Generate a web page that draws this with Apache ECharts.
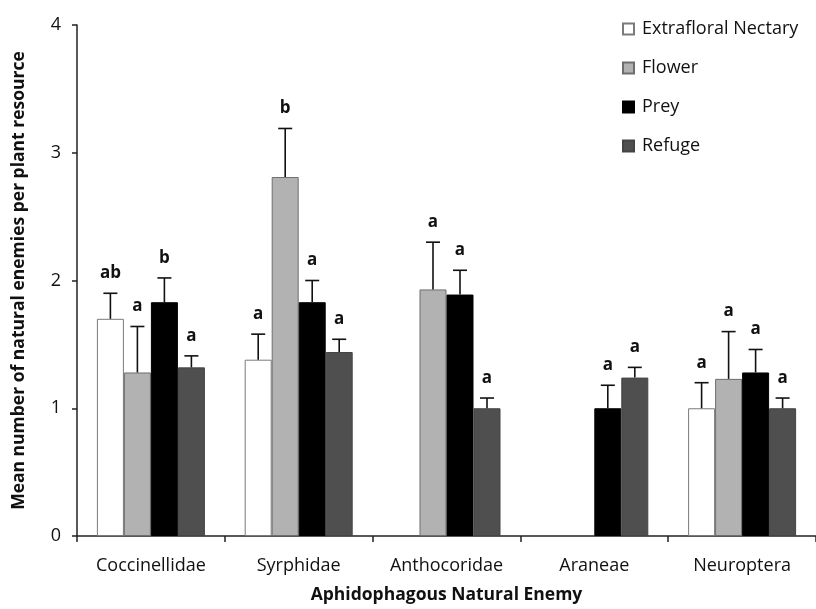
<!DOCTYPE html>
<html><head><meta charset="utf-8">
<script src="https://cdn.jsdelivr.net/npm/echarts@6/dist/echarts.min.js"></script>
<style>html,body{margin:0;padding:0;background:#fff}#c{width:816px;height:609px}</style>
</head><body><div id="c"></div>
<script>
const categories = ['Coccinellidae','Syrphidae','Anthocoridae','Araneae','Neuroptera'];
const seriesNames = ['Extrafloral Nectary','Flower','Prey','Refuge'];
const nectary = [1.70, 1.38, null, null, 1.00];
const flower  = [1.28, 2.81, 1.93, null, 1.23];
const prey    = [1.83, 1.83, 1.89, 1.00, 1.28];
const refuge  = [1.32, 1.44, 1.00, 1.24, 1.00];
const nectaryErr = [1.90, 1.58, null, null, 1.20];
const flowerErr  = [1.64, 3.19, 2.30, null, 1.60];
const preyErr    = [2.02, 2.00, 2.08, 1.18, 1.46];
const refugeErr  = [1.41, 1.54, 1.08, 1.32, 1.08];
const nectaryLetters = ['ab','a','','','a'];
const flowerLetters  = ['a','b','a','','a'];
const preyLetters    = ['b','a','a','a','a'];
const refugeLetters  = ['a','a','a','a','a'];
const yTicks = [0,1,2,3,4];

const values = [nectary, flower, prey, refuge];
const errs = [nectaryErr, flowerErr, preyErr, refugeErr];
const letters = [nectaryLetters, flowerLetters, preyLetters, refugeLetters];
const fills = ['#ffffff','#b2b2b2','#000000','#4f4f4f'];
const borders = ['#7a7a7a','#6e6e6e','#000000','#444444'];
const BW = 27;
const FONT = '"Open Sans", sans-serif';

const series = [];
values.forEach((vals, s) => {
  series.push({
    name: seriesNames[s], type: 'bar', data: vals, barWidth: BW, barGap: '0%',
    itemStyle: {color: fills[s], borderColor: borders[s], borderWidth: 1},
    emphasis: {disabled: true}
  });
});
values.forEach((vals, s) => {
  const data = [];
  vals.forEach((v, i) => { if (v != null) data.push([i, v, errs[s][i], letters[s][i]]); });
  series.push({
    type: 'custom', silent: true, z: 10,
    data: data,
    encode: {x: 0, y: [1, 2]},
    renderItem: function (params, api) {
      const i = api.value(0);
      const base = api.coord([i, api.value(1)]);
      const top = api.coord([i, api.value(2)]);
      const x = base[0] + (s - 1.5) * BW;
      const cap = 7;
      const d = params.dataIndex;
      const txt = data[d][3];
      return {type: 'group', children: [
        {type: 'line', shape: {x1: x, y1: base[1], x2: x, y2: top[1]}, style: {stroke: '#111', lineWidth: 1.6}},
        {type: 'line', shape: {x1: x - cap, y1: top[1], x2: x + cap, y2: top[1]}, style: {stroke: '#111', lineWidth: 1.6}},
        {type: 'text', style: {text: txt, x: x, y: top[1] - 20, align: 'center', verticalAlign: 'middle',
          font: 'bold 17px ' + FONT, fill: '#111'}}
      ]};
    }
  });
});

const chart = echarts.init(document.getElementById('c'), null, {renderer: 'canvas'});
chart.setOption({
  animation: false,
  backgroundColor: '#fff',
  grid: {left: 77, right: -3, top: 25, bottom: 68, containLabel: false},
  legend: {
    data: seriesNames, orient: 'vertical', left: 617, top: 15,
    icon: 'rect', itemWidth: 11, itemHeight: 11, itemGap: 21,
    textStyle: {fontFamily: FONT, fontSize: 18, color: '#111', padding: [0,0,0,3]}
  },
  xAxis: {
    type: 'category', data: categories,
    name: 'Aphidophagous Natural Enemy', nameLocation: 'middle', nameGap: 50,
    nameTextStyle: {fontFamily: FONT, fontSize: 17.5, fontWeight: 'bold', color: '#111'},
    axisLine: {lineStyle: {color: '#222', width: 1.5}},
    axisTick: {show: true, length: 6, lineStyle: {color: '#222', width: 1.5}},
    axisLabel: {fontFamily: FONT, fontSize: 18, color: '#111', margin: 21}
  },
  yAxis: {
    type: 'value', min: 0, max: 4, interval: 1,
    name: 'Mean number of natural enemies per plant resource', nameLocation: 'middle', nameGap: 49,
    nameTextStyle: {fontFamily: FONT, fontSize: 17.5, fontWeight: 'bold', color: '#111'},
    axisLine: {show: true, lineStyle: {color: '#222', width: 1.5}},
    axisTick: {show: true, length: 5, lineStyle: {color: '#222', width: 1.5}},
    splitLine: {show: false},
    axisLabel: {fontFamily: FONT, fontSize: 18, color: '#111', margin: 16,
      formatter: v => yTicks.includes(v) ? String(v) : ''}
  },
  series: series
});
</script></body></html>
